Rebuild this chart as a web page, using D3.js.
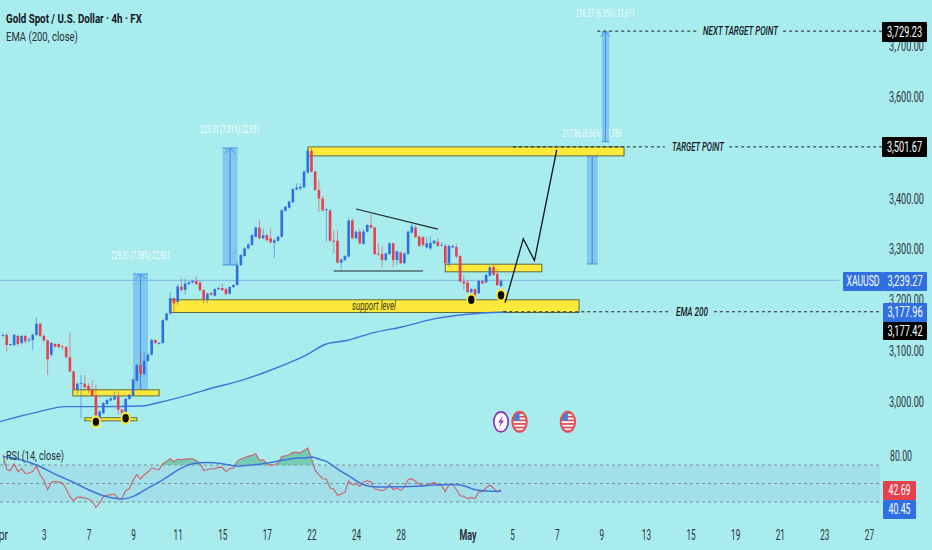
<!DOCTYPE html>
<html>
<head>
<meta charset="utf-8">
<script src="https://cdn.jsdelivr.net/npm/d3@7/dist/d3.min.js"></script>
<style>
body { margin: 0; background: #a8ecee; overflow: hidden; }
text { font-family: Roboto, sans-serif; }
</style>
</head>
<body>
<div id="container"></div>
<script>
var WIDTH = 932,
	HEIGHT = 550;

var barOpen = [3130,3132,3112,3112,3130,3116,3130,3121,3122,3132,3154,3130,3121,3093,3114,3114,3109,3108,3088,3060,3024,3036,3036,3032,3024,3012,2968,2978,2996,3003,3005,3011,2985,2975,3006,3013,3042,3073,3055,3081,3093,3122,3114,3116,3161,3174,3204,3197,3227,3220,3232,3235,3238,3235,3220,3202,3214,3209,3222,3224,3222,3213,3226,3230,3269,3287,3302,3309,3325,3343,3322,3328,3322,3313,3317,3325,3376,3382,3393,3418,3420,3422,3451,3494,3453,3417,3400,3377,3377,3317,3317,3274,3279,3286,3357,3322,3335,3311,3335,3348,3343,3292,3291,3279,3291,3312,3279,3294,3273,3291,3333,3343,3325,3324,3304,3302,3312,3315,3308,3307,3273,3304,3305,3287,3237,3235,3216,3222,3214,3238,3235,3248,3265,3252,3228];
var barHigh = [3135,3135,3115,3134,3132,3132,3132,3127,3135,3167,3156,3133,3123,3118,3116,3116,3112,3110,3137,3062,3038,3053,3053,3037,3043,3034,2984,3000,3006,3010,3021,3020,2987,3008,3016,3046,3075,3099,3099,3095,3124,3124,3118,3163,3176,3216,3206,3232,3243,3243,3238,3240,3247,3237,3222,3215,3216,3224,3226,3233,3224,3228,3232,3275,3291,3304,3312,3331,3345,3357,3341,3330,3341,3321,3327,3379,3386,3396,3421,3430,3430,3456,3500,3500,3455,3436,3405,3381,3379,3338,3338,3282,3289,3363,3362,3337,3340,3340,3350,3369,3345,3312,3306,3294,3314,3314,3298,3296,3294,3337,3350,3348,3327,3326,3325,3327,3319,3322,3314,3312,3309,3309,3310,3289,3250,3240,3224,3224,3240,3240,3252,3268,3270,3262,3241];
var barLow = [3127,3099,3110,3108,3109,3113,3115,3117,3102,3130,3128,3118,3053,3088,3106,3106,3103,3085,3058,3023,3015,2968,3024,3018,3010,2960,2960,2975,2994,3001,3003,2975,2970,2970,3004,3011,3040,3050,3053,3079,3091,3114,3113,3114,3159,3172,3174,3190,3218,3211,3230,3233,3230,3218,3194,3194,3209,3207,3220,3218,3210,3211,3224,3228,3267,3285,3300,3307,3323,3320,3320,3316,3312,3284,3315,3323,3374,3380,3391,3416,3415,3420,3449,3451,3415,3374,3375,3315,3315,3292,3272,3261,3277,3284,3320,3320,3310,3309,3333,3341,3289,3288,3265,3277,3289,3265,3269,3271,3271,3289,3331,3322,3305,3305,3302,3298,3310,3305,3306,3270,3266,3302,3283,3235,3220,3214,3207,3205,3212,3231,3233,3246,3248,3228,3226];
var barClose = [3132,3112,3114,3132,3114,3130,3119,3123,3132,3154,3130,3121,3084,3116,3109,3108,3108,3088,3060,3025,3036,3037,3029,3023,3012,2962,2981,2998,3004,3007,3011,2985,2979,3006,3014,3044,3073,3055,3081,3093,3122,3116,3116,3161,3174,3204,3194,3227,3220,3233,3235,3238,3232,3220,3202,3213,3211,3222,3224,3220,3212,3226,3230,3269,3289,3302,3310,3328,3343,3322,3328,3318,3314,3318,3325,3377,3384,3394,3419,3422,3423,3453,3494,3453,3417,3400,3377,3379,3317,3315,3274,3280,3287,3357,3322,3335,3312,3335,3348,3343,3291,3290,3279,3292,3312,3279,3296,3273,3292,3335,3345,3324,3307,3309,3312,3313,3317,3307,3309,3273,3307,3307,3286,3237,3233,3216,3222,3210,3238,3233,3250,3265,3250,3230,3238];

var emaBars = [-1,8,17,26,37,42,50,56.5,64,70,81,87,92.5,99.5,107.6,115.7,123,129,135.6];
var emaValues = [2961,2978,2991,2991,2992,2999,3014,3028,3042,3057,3090,3114,3121,3136,3148,3163,3171,3175,3177];

var rsiValues = [81,65,64,71.4,62.7,66,60.6,61.3,63,69,59.5,53.4,43.3,51.2,52.3,51.6,50.5,44,36,31.4,35.4,35,34.3,33.2,31,24.2,28.9,36,37.2,37.9,38.6,33.6,33.6,42.2,44.4,53.4,59.5,54.8,59.5,62.4,66.7,65.6,64.9,71.4,73.9,76.8,73.5,76.4,75.7,76.4,76.8,76.8,75,71.4,64.2,64.9,66,66,67.4,67.4,62.7,66,66.7,73.9,76.4,77.9,79.3,80.4,82.2,75,75.7,71.4,69.6,70.3,72.1,79.3,80,81,83.6,83.6,82.9,85.8,88.3,77.5,64.2,59.5,55.2,54.8,45.1,44,37.2,38.6,40.4,53,48.7,49.8,46.9,51.6,53,51.6,44,43.3,42.2,44,48.7,43.3,45.1,42.6,46.2,54.1,55.2,52.3,49.4,48,48.7,49.8,51.2,48.7,47.6,41.5,48.7,48.7,43.3,36.8,36.1,33.6,35,33.6,40.8,41.5,45.1,48.3,45.1,40.8,43.3];
var rsiMaBars = [0,4,9,14,18,23,27,31,32,35,39,43,48,51,55,59,63,67,72,76,80,81,83,85,87,89,91,94,96,98,101,106,111,116,121,124,127,130,134];
var rsiMaValues = [79.3,76.4,70,60.2,53,43.3,36.8,33.6,33.2,36.1,45.1,54,66.7,71.4,72.8,71.4,68.9,70,72.8,75.7,77.5,77.5,78.6,76.4,73.9,68.5,63.1,55.9,50.5,47.6,46.2,46.5,46.9,48.3,49,47.6,43.3,41.9,41.5];

var priceTicks = [3000,3100,3200,3300,3400,3500,3600,3700];
var rsiLevels = [30,50,70];
var dateBars = [-1,11,23,35,47,59,71,83,95,107,125,137,149,161,173,185,197,209,221,233];
var dateLabels = ['Apr','3','7','9','11','15','17','22','24','28','May','5','7','9','13','15','19','21','23','27'];

// zones: first bar, last bar, top price, bottom price
var zones = [[82.1,167.1,3501.67,3484],[45,155,3201,3176],[119,145,3271,3256],[18.8,42,3024,3012],[22,36,2969,2963]];
// measures: first bar, last bar, start price, end price, label
var measures = [
	[35,39,3022.4,3251.7,'229.31 (7.58%) 22,931'],
	[59.1,63.1,3269.4,3499.4,'229.31 (7.01%) 22,931'],
	[157.1,160,3271.4,3490,'217.86 (6.66%) 21,786'],
	[161.1,163.1,3511.8,3727.5,'216.37 (6.15%) 21,617']
];
var forecastBars = [135.1,140,143,149];
var forecastPrices = [3195,3321,3278,3496];
var wedgeTop = [[95,3379.5],[117,3340]];
var wedgeBottom = [[89,3257.6],[113,3257.6]];
var dotBars = [25,33,126,134];
var dotPrices = [2961,2968,3201,3210];
var flagBars = [139,152];

var xScale = d3.scaleLinear().domain([0, 134]).range([3, 501]);
var yScale = d3.scaleLinear().domain([3000, 3700]).range([402, 46]);
var rsiScale = d3.scaleLinear().domain([30, 70]).range([502, 465]);

var BLUE = '#2f6fe0', RED = '#e5404e', INK = '#131722';

var svg = d3.select('#container').append('svg')
	.attr('width', WIDTH)
	.attr('height', HEIGHT)
	.style('display', 'block');

// squeezes a text to the width it has in the picture
function fit(sel, w) {
	return sel.each(function(d, i) {
		var t = d3.select(this),
			x = +t.attr('x') || 0,
			y = +t.attr('y') || 0,
			want = typeof w === 'function' ? w(d, i) : w;
		t.attr('x', 0).attr('y', 0)
			.attr('transform', 'translate(' + x + ',' + y + ') scale(' + (want / this.getComputedTextLength()) + ',1)');
	});
}

function label(str, x, y, w, size, color, opts) {
	opts = opts || {};
	return fit(svg.append('text')
		.attr('x', x).attr('y', y)
		.attr('dy', '0.35em')
		.attr('text-anchor', opts.anchor || 'start')
		.attr('font-size', size)
		.attr('font-weight', opts.weight || 400)
		.attr('font-style', opts.style || 'normal')
		.attr('fill', color)
		.text(str), w);
}

function drawRsiBand() {
	svg.append('rect')
		.attr('x', 0).attr('width', 880)
		.attr('y', rsiScale(70))
		.attr('height', rsiScale(30) - rsiScale(70))
		.attr('fill', '#8fbfe0').attr('opacity', 0.28);
	svg.selectAll('.rsiLevel').data(rsiLevels).enter().append('line')
		.attr('x1', 0).attr('x2', 880)
		.attr('y1', function(d){ return rsiScale(d); })
		.attr('y2', function(d){ return rsiScale(d); })
		.attr('stroke', '#7d8f98')
		.attr('stroke-dasharray', '3,3');
}

function drawZones() {
	svg.selectAll('.zone').data(zones).enter().append('rect')
		.attr('x', function(d){ return xScale(d[0]); })
		.attr('width', function(d){ return xScale(d[1]) - xScale(d[0]); })
		.attr('y', function(d){ return yScale(d[2]); })
		.attr('height', function(d){ return yScale(d[3]) - yScale(d[2]); })
		.attr('fill', '#fde93c')
		.attr('stroke', '#5c6b3c')
		.attr('stroke-width', 1);
}

function drawMeasures() {
	var g = svg.selectAll('.measure').data(measures).enter().append('g');
	g.append('rect')
		.attr('x', function(d){ return xScale(d[0]); })
		.attr('width', function(d){ return xScale(d[1]) - xScale(d[0]); })
		.attr('y', function(d){ return yScale(d[3]); })
		.attr('height', function(d){ return yScale(d[2]) - yScale(d[3]); })
		.attr('fill', '#5aa6ee').attr('opacity', 0.5);
	g.append('line')
		.attr('x1', function(d){ return xScale((d[0] + d[1]) / 2); })
		.attr('x2', function(d){ return xScale((d[0] + d[1]) / 2); })
		.attr('y1', function(d){ return yScale(d[2]); })
		.attr('y2', function(d){ return yScale(d[3]); })
		.attr('stroke', '#4a90e8').attr('stroke-width', 1.2);
	g.append('line')
		.attr('x1', function(d){ return xScale(d[0]); })
		.attr('x2', function(d){ return xScale(d[1]); })
		.attr('y1', function(d){ return yScale(d[3]); })
		.attr('y2', function(d){ return yScale(d[3]); })
		.attr('stroke', '#4a90e8');
	g.append('line')
		.attr('x1', function(d){ return xScale(d[0]); })
		.attr('x2', function(d){ return xScale(d[1]); })
		.attr('y1', function(d){ return yScale(d[2]); })
		.attr('y2', function(d){ return yScale(d[2]); })
		.attr('stroke', '#4a90e8');
	g.append('path')
		.attr('d', function(d){
			var cx = xScale((d[0] + d[1]) / 2), cy = yScale(d[3]);
			return 'M' + (cx - 5) + ',' + (cy + 5) + 'L' + cx + ',' + cy + 'L' + (cx + 5) + ',' + (cy + 5);
		})
		.attr('fill', 'none').attr('stroke', '#4a90e8');
	fit(g.append('text')
		.attr('x', function(d){ return xScale((d[0] + d[1]) / 2); })
		.attr('y', function(d){ return yScale(d[3]) - 19; })
		.attr('text-anchor', 'middle')
		.attr('dy', '0.35em')
		.attr('font-size', 10)
		.attr('fill', '#ffffff')
		.attr('opacity', 0.9)
		.text(function(d){ return d[4]; }), 59);
}

function drawLine(points, color, width, dash) {
	var line = d3.line()
		.x(function(d){ return xScale(d[0]); })
		.y(function(d){ return yScale(d[1]); });
	svg.append('path')
		.attr('d', line(points))
		.attr('fill', 'none')
		.attr('stroke', color)
		.attr('stroke-width', width)
		.attr('stroke-dasharray', dash || null);
}

function drawEma() {
	var line = d3.line()
		.x(function(d){ return xScale(d); })
		.y(function(d, i){ return yScale(emaValues[i]); })
		.curve(d3.curveMonotoneX);
	svg.append('path')
		.attr('d', line(emaBars))
		.attr('fill', 'none')
		.attr('stroke', '#3f75db')
		.attr('stroke-width', 1.4);
}

function drawCandles() {
	var g = svg.selectAll('.candle').data(barOpen).enter().append('g');
	var color = function(d, i){ return barClose[i] >= d ? BLUE : RED; };
	g.append('line')
		.attr('x1', function(d, i){ return xScale(i); })
		.attr('x2', function(d, i){ return xScale(i); })
		.attr('y1', function(d, i){ return yScale(barHigh[i]); })
		.attr('y2', function(d, i){ return yScale(barLow[i]); })
		.attr('stroke', color)
		.attr('stroke-opacity', 0.55);
	g.append('rect')
		.attr('x', function(d, i){ return xScale(i) - 1.3; })
		.attr('width', 2.6)
		.attr('y', function(d, i){ return yScale(Math.max(d, barClose[i])); })
		.attr('height', function(d, i){ return Math.max(0.8, Math.abs(yScale(d) - yScale(barClose[i]))); })
		.attr('fill', color);
}

function drawDots() {
	var g = svg.selectAll('.dot').data(dotBars).enter().append('g');
	g.append('ellipse')
		.attr('cx', function(d){ return xScale(d); })
		.attr('cy', function(d, i){ return yScale(dotPrices[i]); })
		.attr('rx', 5).attr('ry', 6.5)
		.attr('fill', '#fde93c');
	g.append('ellipse')
		.attr('cx', function(d){ return xScale(d); })
		.attr('cy', function(d, i){ return yScale(dotPrices[i]); })
		.attr('rx', 3.2).attr('ry', 4.2)
		.attr('fill', '#0b0b0b');
}

function drawIcons() {
	var cy = yScale(2961);
	var lx = xScale(134);
	svg.append('ellipse')
		.attr('cx', lx).attr('cy', cy).attr('rx', 7.2).attr('ry', 10)
		.attr('fill', '#fbfbff').attr('stroke', '#8a2fb8').attr('stroke-width', 1.6);
	svg.append('path')
		.attr('d', 'M' + (lx + 2) + ',' + (cy - 6) + 'L' + (lx - 3) + ',' + (cy + 1) + 'L' + lx + ',' + (cy + 0.5) + 'L' + (lx - 2) + ',' + (cy + 6) + 'L' + (lx + 3) + ',' + (cy - 1.5) + 'L' + lx + ',' + (cy - 1) + 'Z')
		.attr('fill', '#8a2fb8');

	var defs = svg.append('defs');
	flagBars.forEach(function(bar, n) {
		var cx = xScale(bar);
		defs.append('clipPath').attr('id', 'flag' + n).append('ellipse')
			.attr('cx', cx).attr('cy', cy).attr('rx', 6.8).attr('ry', 9.6);
		var g = svg.append('g').attr('clip-path', 'url(#flag' + n + ')');
		g.append('rect').attr('x', cx - 8).attr('y', cy - 11).attr('width', 16).attr('height', 22).attr('fill', '#f7f7f7');
		d3.range(6).forEach(function(s) {
			g.append('rect').attr('x', cx - 8).attr('y', cy - 9.6 + s * 3.6).attr('width', 16).attr('height', 1.8).attr('fill', '#e2505a');
		});
		g.append('rect').attr('x', cx - 8).attr('y', cy - 11).attr('width', 8).attr('height', 10).attr('fill', '#4a7fd0');
		svg.append('ellipse')
			.attr('cx', cx).attr('cy', cy).attr('rx', 7.2).attr('ry', 10)
			.attr('fill', 'none').attr('stroke', '#e2505a').attr('stroke-width', 2);
	});
}

function drawRsi() {
	var clip = svg.append('defs').append('clipPath').attr('id', 'overbought');
	clip.append('rect').attr('x', 0).attr('y', 440).attr('width', WIDTH).attr('height', rsiScale(70) - 440);
	var area = d3.area()
		.x(function(d, i){ return xScale(i); })
		.y0(rsiScale(70))
		.y1(function(d){ return rsiScale(d); });
	svg.append('path')
		.attr('d', area(rsiValues))
		.attr('clip-path', 'url(#overbought)')
		.attr('fill', '#5fbf9a').attr('opacity', 0.7);
	var line = d3.line()
		.x(function(d, i){ return xScale(i); })
		.y(function(d){ return rsiScale(d); });
	svg.append('path')
		.attr('d', line(rsiValues))
		.attr('fill', 'none').attr('stroke', '#cf5f6a').attr('stroke-width', 1.1);
	var ma = d3.line()
		.x(function(d){ return xScale(d); })
		.y(function(d, i){ return rsiScale(rsiMaValues[i]); })
		.curve(d3.curveMonotoneX);
	svg.append('path')
		.attr('d', ma(rsiMaBars))
		.attr('fill', 'none').attr('stroke', '#3f75db').attr('stroke-width', 1.5);
}

function drawAxes() {
	var right = d3.axisRight(yScale).tickValues(priceTicks).tickFormat(d3.format(',.2f')).tickSize(0);
	var yg = svg.append('g').attr('transform', 'translate(924,0)').call(right);
	yg.select('.domain').remove();
	fit(yg.selectAll('text').attr('x', 0).attr('text-anchor', 'end')
		.attr('font-size', 14).attr('font-family', 'Roboto').attr('fill', '#2a3038'), 35);

	var bottom = d3.axisBottom(xScale)
		.tickValues(dateBars)
		.tickFormat(function(d, i){ return dateLabels[i]; })
		.tickSize(0);
	var xg = svg.append('g').attr('transform', 'translate(0,527)').call(bottom);
	xg.select('.domain').remove();
	fit(xg.selectAll('text')
		.attr('font-size', 14).attr('font-family', 'Roboto').attr('fill', '#2a3038')
		.attr('font-weight', function(d, i){ return dateLabels[i] === 'May' ? 700 : 400; }),
		function(d, i){ return dateLabels[i].length === 3 ? 17 : dateLabels[i].length * 4.6; });
}

function tag(str, x0, x1, y0, y1, fill) {
	svg.append('rect')
		.attr('x', x0).attr('width', x1 - x0)
		.attr('y', y0).attr('height', y1 - y0)
		.attr('rx', 1)
		.attr('fill', fill);
	var w = str === 'XAUUSD' ? 33 : str.length * 4.4;
	label(str, (x0 + x1) / 2, (y0 + y1) / 2, w, 14, '#ffffff', {anchor: 'middle'});
}

function visualize() {
	svg.append('rect').attr('width', WIDTH).attr('height', HEIGHT).attr('fill', '#a8ecee');
	drawRsiBand();
	drawLine([[-2,3239.27],[225,3239.27]], '#7fb0ea', 1);
	drawMeasures();
	drawZones();
	drawEma();
	drawCandles();
	drawLine(wedgeTop, '#20282e', 1.2);
	drawLine(wedgeBottom, '#20282e', 1.2);
	drawLine(forecastBars.map(function(d, i){ return [d, forecastPrices[i]]; }), '#10161c', 1.3);
	drawDots();
	drawIcons();
	drawRsi();

	// dashed guide lines with their names set in the gap
	drawLine([[159.9,3729.23],[186.8,3729.23]], '#1c2228', 1, '3,3');
	drawLine([[209.9,3729.23],[236.5,3729.23]], '#1c2228', 1, '3,3');
	drawLine([[137.2,3501.67],[178.1,3501.67]], '#1c2228', 1, '3,3');
	drawLine([[195.4,3501.67],[236.5,3501.67]], '#1c2228', 1, '3,3');
	drawLine([[134.6,3177.42],[179.5,3177.42]], '#1c2228', 1, '3,3');
	drawLine([[191.3,3177.42],[236.5,3177.42]], '#1c2228', 1, '3,3');
	label('NEXT TARGET POINT', 703, yScale(3729.23), 75, 12, INK, {style: 'italic', weight: 500});
	label('TARGET POINT', 672, yScale(3501.67), 52, 12, INK, {style: 'italic', weight: 500});
	label('EMA 200', 676, yScale(3177.42), 32, 12, INK, {style: 'italic', weight: 500});
	label('support level', 352, 306, 44, 12, '#3a3a10', {style: 'italic'});

	label('Gold Spot / U.S. Dollar \u00b7 4h \u00b7 FX', 6, 18, 136, 13.5, INK, {weight: 700});
	label('EMA (200, close)', 6, 36, 72, 13.5, '#2a3038');
	label('RSI (14, close)', 6, 455, 58, 13.5, '#2a3038');

	drawAxes();
	label('80.00', 912, 456, 22, 14, '#2a3038', {anchor: 'end'});
	tag('3,729.23', 882, 927, 22, 42, '#000000');
	tag('3,501.67', 882, 927, 137, 157, '#000000');
	tag('XAUUSD', 843, 883, 272, 291, '#2f6fe0');
	tag('3,239.27', 883, 927, 272, 291, '#2f6fe0');
	tag('3,177.96', 883, 927, 303, 322, '#2f6fe0');
	tag('3,177.42', 883, 927, 322, 340, '#000000');
	tag('42.69', 883, 916, 481, 500, '#e5404e');
	tag('40.45', 883, 916, 500, 519, '#2f6fe0');
}

visualize();
</script>
</body>
</html>
